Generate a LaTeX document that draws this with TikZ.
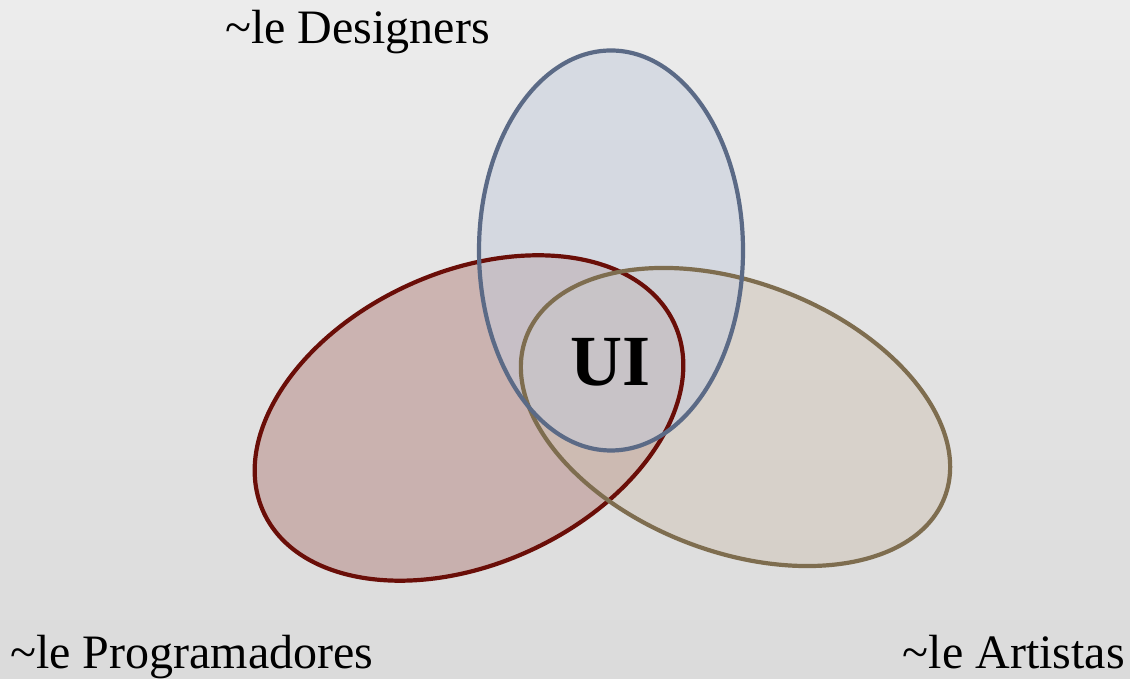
\documentclass[tikz,border=0pt]{standalone}
\usepackage{fontspec}
\setmainfont{Liberation Serif}
\begin{document}
\begin{tikzpicture}[x=1pt,y=1pt,
  lbl/.style={font=\fontsize{48}{48}\selectfont, inner sep=0pt},
  setfill/.style={fill opacity=0.5},
  setline/.style={line width=4.2pt}]
\definecolor{bgtop}{HTML}{ECECEC}
\definecolor{bgbot}{HTML}{DBDBDB}
\definecolor{redline}{HTML}{6A0E08}
\definecolor{redfill}{HTML}{B4847F}
\definecolor{tanline}{HTML}{7E6D4F}
\definecolor{tanfill}{HTML}{D0C4B6}
\definecolor{blueline}{HTML}{5B6A86}
\definecolor{bluefill}{HTML}{C4CCDC}
% page and background
\shade[top color=bgtop, bottom color=bgbot] (0,0) rectangle (1130,679);
\useasboundingbox (0,0) rectangle (1130,679);
% the three sets: shapes
\path (469,261) coordinate (cp) (735.5,262) coordinate (ca) (611,428.5) coordinate (cd);
\fill[setfill, redfill] (cp) ellipse [x radius=226, y radius=146, rotate=24.6];
\fill[setfill, tanfill] (ca) ellipse [x radius=224, y radius=134.5, rotate=-21];
\fill[setfill, bluefill] (cd) ellipse [x radius=132, y radius=200];
% the three sets: outlines
\draw[setline, redline] (cp) ellipse [x radius=226, y radius=146, rotate=24.6];
\draw[setline, tanline] (ca) ellipse [x radius=224, y radius=134.5, rotate=-21];
\draw[setline, blueline] (cd) ellipse [x radius=132, y radius=200];
% labels
\node[lbl, anchor=base] (ui) at (611,293) {\fontsize{72}{72}\selectfont\bfseries UI};
\node[lbl, anchor=base west] (des) at (225,635) {\textasciitilde le Designers};
\node[lbl, anchor=base west] (prog) at (10,10) {\textasciitilde le Programadores};
\node[lbl, anchor=base east] (art) at (1125,10) {\textasciitilde le Artistas};
\end{tikzpicture}
\end{document}
